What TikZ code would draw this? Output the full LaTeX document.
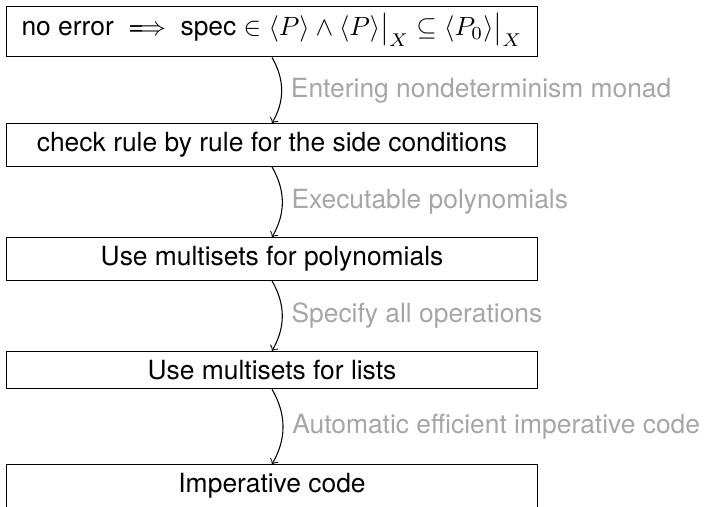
\documentclass[tikz,border=0pt]{standalone}
\usepackage{amsmath}
\usepackage{fontspec}
\setmainfont{TeX Gyre Heros}
\newcommand\plainbig[1]{{\hbox{$\left#1\vbox to 8.5pt{}\right.\nulldelimiterspace=0pt\relax$}}}
\begin{document}
\begin{tikzpicture}[x=0.3788pt,y=-0.3788pt,
  box/.style={draw, line width=0.4pt, minimum width=200.8pt, inner sep=0.3333em},
  arr/.style={->, line width=0.4pt},
  lbl/.style={right, text=black!35}]
\useasboundingbox (0,0) rectangle (705,506);
\node[box, text height=8.0pt, text depth=4.6pt] (n1) at (272,31.5) {no error $\implies \text{spec} \in \langle P\rangle \wedge \langle P\rangle\plainbig|_X \subseteq \langle P_0\rangle\plainbig|_X$};
\node[box] (n2) at (272,145) {check rule by rule for the side conditions};
\node[box] (n3) at (272,259) {Use multisets for polynomials};
\node[box] (n4) at (272,370) {Use multisets for lists};
\node[box] (n5) at (272,486) {Imperative code};
\draw[arr] (n1.south) to[bend left=30] node[lbl] {Entering nondeterminism monad} (n2.north);
\draw[arr] (n2.south) to[bend left=30] node[lbl] {Executable polynomials} (n3.north);
\draw[arr] (n3.south) to[bend left=30] node[lbl] {Specify all operations} (n4.north);
\draw[arr] (n4.south) to[bend left=30] node[lbl] {Automatic efficient imperative code} (n5.north);
\end{tikzpicture}
\end{document}
